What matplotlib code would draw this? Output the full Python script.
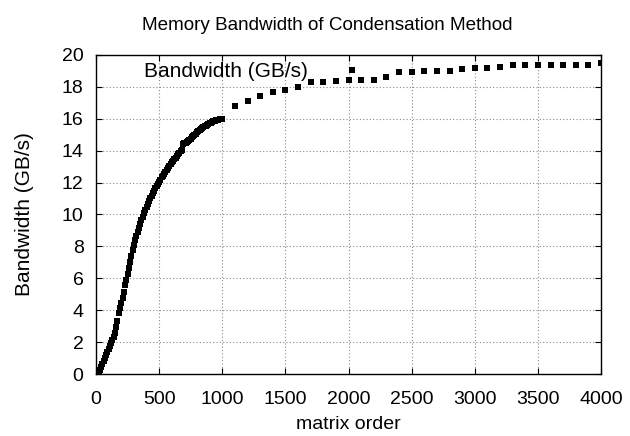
import matplotlib
matplotlib.use("Agg")
import matplotlib.pyplot as plt

# Datos: parte densa (0-1000) y parte espaciada (1100-4000)
dense_order = list(range(0, 1001, 10))
dense_bw = [
    0.00, 0.05, 0.12, 0.25, 0.45, 0.65, 0.82, 1.00, 1.18, 1.36,
    1.54, 1.74, 1.93, 2.13, 2.35, 2.60, 2.95, 3.35, 3.80, 4.15,
    4.45, 4.75, 5.15, 5.55, 5.92, 6.28, 6.65, 7.02, 7.38, 7.75,
    8.10, 8.38, 8.64, 8.90, 9.15, 9.40, 9.63, 9.86, 10.08, 10.28,
    10.48, 10.66, 10.84, 11.02, 11.18, 11.35, 11.50, 11.65, 11.80, 11.93,
    12.06, 12.19, 12.32, 12.44, 12.56, 12.68, 12.80, 12.92, 13.04, 13.15,
    13.26, 13.36, 13.46, 13.56, 13.66, 13.76, 13.86, 13.96, 14.06, 14.40,
    14.45, 14.48, 14.52, 14.60, 14.68, 14.76, 14.84, 14.92, 15.00, 15.07,
    15.14, 15.21, 15.28, 15.34, 15.40, 15.46, 15.52, 15.57, 15.62, 15.67,
    15.72, 15.76, 15.80, 15.84, 15.87, 15.90, 15.93, 15.95, 15.97, 15.99,
    16.00,
]
sparse_order = list(range(1100, 4001, 100))
sparse_bw = [
    16.82, 17.13, 17.45, 17.70, 17.82, 18.00, 18.29, 18.33, 18.39, 18.43,
    18.43, 18.45, 18.60, 18.95, 18.95, 18.97, 19.02, 19.02, 19.09, 19.15,
    19.15, 19.22, 19.34, 19.34, 19.34, 19.34, 19.40, 19.40, 19.40, 19.47,
]

x_ticks = list(range(0, 4001, 500))
y_ticks = list(range(0, 21, 2))

plt.rcParams['font.family'] = ['Liberation Sans', 'DejaVu Sans']

fig = plt.figure(figsize=(6.3, 4.36), dpi=100)
ax = fig.add_axes([0.1524, 0.1422, 0.8016, 0.7318])

order = dense_order + sparse_order
bw = dense_bw + sparse_bw
ax.plot(order, bw, linestyle='none', marker='s', markersize=4.6,
        color='black', markeredgewidth=0, label='Bandwidth (GB/s)')

ax.set_xlim(0, 4000)
ax.set_ylim(0, 20)
ax.set_xticks(x_ticks)
ax.set_yticks(y_ticks)
ax.tick_params(direction='in', top=True, right=True, length=4,
               labelsize=14, width=0.8)
ax.tick_params(axis='x', pad=12)
ax.tick_params(axis='y', pad=9)
ax.grid(True, linestyle=(0, (1, 2)), color='#888888', linewidth=0.8)
for s in ax.spines.values():
    s.set_linewidth(1.0)

# el titulo esta centrado en la figura, no en los ejes
ax.set_title('Memory Bandwidth of Condensation Method', fontsize=13.6,
             pad=18, x=0.457)
ax.set_xlabel('matrix order', fontsize=14, labelpad=6)
ax.set_ylabel('Bandwidth (GB/s)', fontsize=15, labelpad=20)

ax.legend(loc='center left', bbox_to_anchor=(0.096, 0.947), frameon=False,
          markerfirst=False, numpoints=1, handlelength=2.0,
          handletextpad=1.1, borderpad=0, borderaxespad=0, fontsize=15)

fig.savefig('out.png', dpi=100)
